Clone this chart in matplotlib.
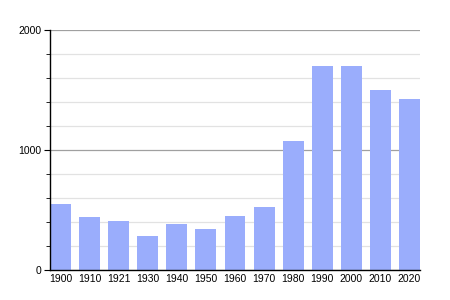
import numpy as np
import matplotlib.pyplot as plt
from matplotlib.ticker import MultipleLocator

years = ['1900', '1910', '1921', '1930', '1940', '1950', '1960',
         '1970', '1980', '1990', '2000', '2010', '2020']
population = [552, 441, 408, 283, 386, 342, 450, 525, 1075, 1700, 1700, 1500, 1425]

plt.rcParams['font.family'] = ['Liberation Sans', 'DejaVu Sans']

fig = plt.figure(figsize=(4.5, 3), dpi=100)
ax = fig.add_axes([50 / 450, 0.1, 370 / 450, 0.8])

x = np.arange(len(years))
ax.bar(x, population, width=0.72, color='#9aadfc', zorder=2)

ax.set_xlim(-0.36, len(years) - 0.64)
ax.set_ylim(0, 2000)
ax.set_xticks(x)
ax.set_xticklabels(years)
ax.yaxis.set_major_locator(MultipleLocator(1000))
ax.yaxis.set_minor_locator(MultipleLocator(200))

ax.grid(axis='y', which='major', color='#a0a0a0', linewidth=0.9, zorder=0)
ax.grid(axis='y', which='minor', color='#e2e2e2', linewidth=0.9, zorder=0)

for side in ['top', 'right']:
    ax.spines[side].set_visible(False)
ax.spines['left'].set_linewidth(1.0)
ax.spines['bottom'].set_linewidth(1.0)

ax.tick_params(axis='x', length=0, labelsize=7.5, pad=3)
ax.tick_params(axis='y', which='major', length=4, labelsize=7.5, pad=2)
ax.tick_params(axis='y', which='minor', length=3)

fig.savefig('out.png', dpi=100)
